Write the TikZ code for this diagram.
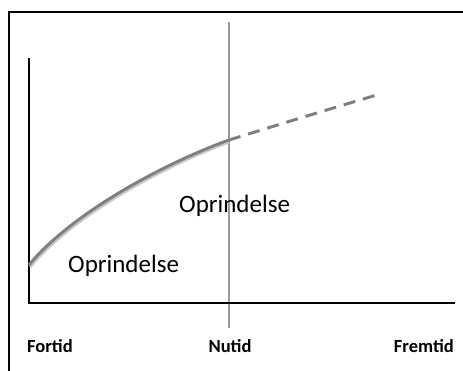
\documentclass[tikz,border=0pt]{standalone}
\usepackage{fontspec}
\setmainfont{Carlito}
\usetikzlibrary{calc}

\begin{document}
\begin{tikzpicture}[x=1pt, y=-1pt]
    % Define colours
    \definecolor{curveColour}{HTML}{808080}
    \definecolor{shadowColour}{HTML}{C8C8C8}
    \definecolor{nowColour}{HTML}{9A9A9A}

    % Fix the picture size
    \useasboundingbox (0,0) rectangle (463,370);

    % Draw outer frame (runs off the page)
    \draw[line width=2pt] (9,380) -- (9,12) -- (480,12);

    % Define coordinates for the axes
    \coordinate (origin) at (29,303);
    \coordinate (yTop) at (29,58);
    \coordinate (xEnd) at (455,303);
    \coordinate (nowTop) at (229,22);
    \coordinate (nowBottom) at (229,328);

    % Define coordinates for the curve
    \coordinate (start) at (29,265);
    \coordinate (now) at (229,140);
    \coordinate (future) at (380,94);

    % Draw the "now" line
    \draw[nowColour, line width=1.3pt] (nowTop) -- (nowBottom);

    % Draw axes
    \draw[line width=2.6pt] (yTop) -- (origin) -- (xEnd);

    % Draw the curve with a soft shadow
    \draw[shadowColour, line width=3pt] ($(start)+(1,2)$) .. controls (71,217) and (161,167) .. ($(now)+(0,2)$);
    \draw[curveColour, line width=3pt] (start) .. controls (70,215) and (160,165) .. (now);
    \draw[curveColour, line width=3pt, dash pattern=on 12pt off 8pt] (now) .. controls (300,118) .. (future);

    % Labels
    \node[anchor=base west, inner sep=0pt, font=\fontsize{25}{30}\selectfont] (pastLabel) at (68,272) {Oprindelse};
    \node[anchor=base west, inner sep=0pt, font=\fontsize{25}{30}\selectfont] (nowLabel) at (179,212) {Oprindelse};

    \node[anchor=base west, inner sep=0pt, font=\bfseries\fontsize{18.5}{22}\selectfont] (fortid) at (27,352) {Fortid};
    \node[anchor=base, inner sep=0pt, font=\bfseries\fontsize{18.5}{22}\selectfont] (nutid) at (230,352) {Nutid};
    \node[anchor=base east, inner sep=0pt, font=\bfseries\fontsize{18.5}{22}\selectfont] (fremtid) at (454,352) {Fremtid};
\end{tikzpicture}
\end{document}
